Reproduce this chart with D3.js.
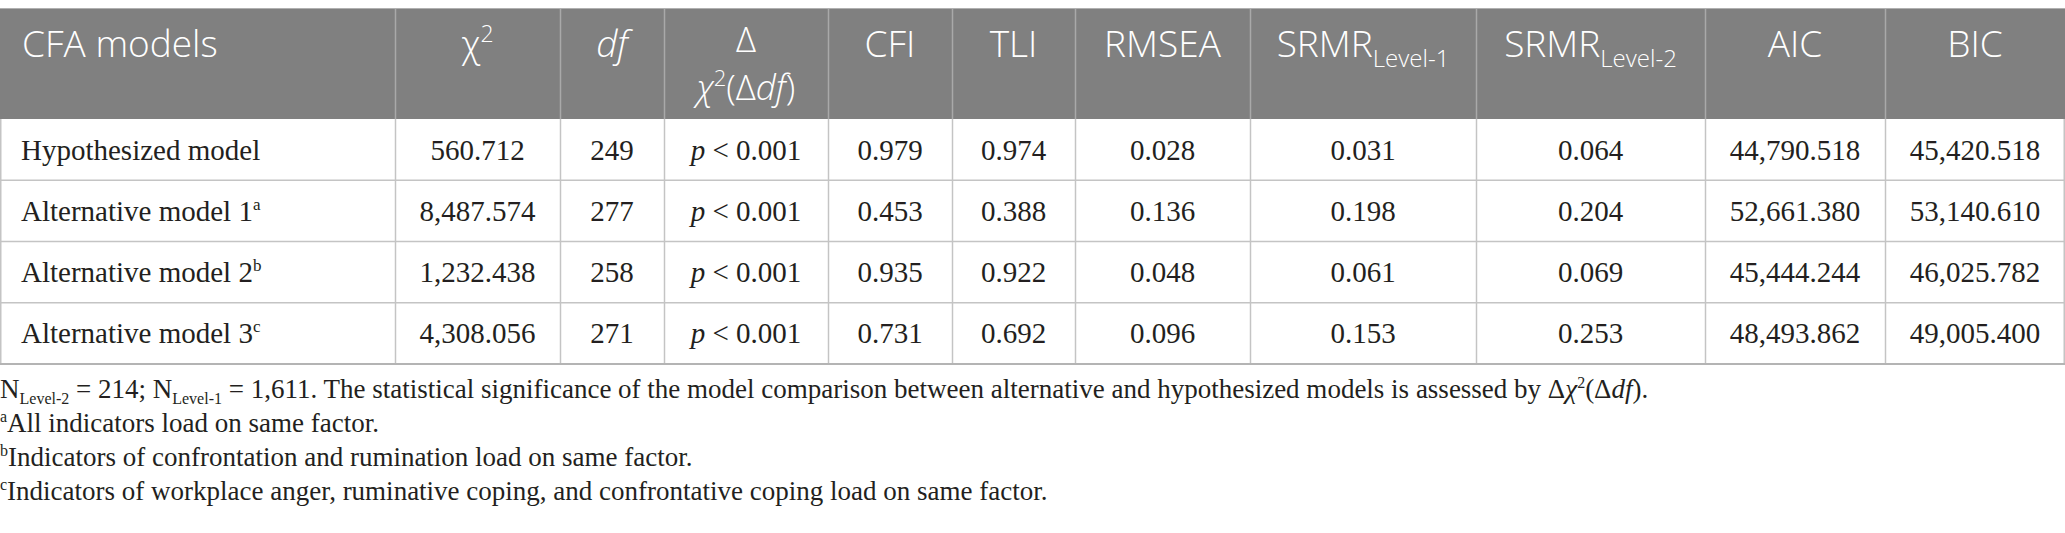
<!DOCTYPE html>
<html>
<head>
<meta charset="utf-8">
<script src="https://cdn.jsdelivr.net/npm/d3@7"></script>
<style>
  html, body { margin: 0; padding: 0; background: #fff; }
  svg { display: block; }
</style>
</head>
<body>
<div id="main-container"></div>
<script>
const WIDTH = 2065;
const HEIGHT = 533;
const HEADER_TOP = 9;
const HEADER_BOTTOM = 119;
const TABLE_BOTTOM = 364;
const HEADER_BG = '#808080';
const HEADER_RULE = '#a9a9a9';
const GRID = '#c4c4c4';
const TEXT = '#231f20';
const SANS = "'Open Sans', 'DejaVu Sans', sans-serif";
const SERIF = "'Liberation Serif', 'DejaVu Serif', serif";

// data
const MODELS = ['Hypothesized model', 'Alternative model 1', 'Alternative model 2', 'Alternative model 3'];
const MODEL_NOTES = ['', 'a', 'b', 'c'];
const CHI2 = ['560.712', '8,487.574', '1,232.438', '4,308.056'];
const DF = ['249', '277', '258', '271'];
const DELTA_P = ['0.001', '0.001', '0.001', '0.001'];
const CFI = ['0.979', '0.453', '0.935', '0.731'];
const TLI = ['0.974', '0.388', '0.922', '0.692'];
const RMSEA = ['0.028', '0.136', '0.048', '0.096'];
const SRMR_L1 = ['0.031', '0.198', '0.061', '0.153'];
const SRMR_L2 = ['0.064', '0.204', '0.069', '0.253'];
const AIC = ['44,790.518', '52,661.380', '45,444.244', '48,493.862'];
const BIC = ['45,420.518', '53,140.610', '46,025.782', '49,005.400'];
const COLUMNS = ['model', 'chi2', 'df', 'delta', 'cfi', 'tli', 'rmsea', 'srmr1', 'srmr2', 'aic', 'bic'];
const NOTES = [
  'All indicators load on same factor.',
  'Indicators of confrontation and rumination load on same factor.',
  'Indicators of workplace anger, ruminative coping, and confrontative coping load on same factor.'
];

// column edges (layout)
const COL_EDGES = [0, 395, 560, 664, 828, 952, 1075, 1250, 1476, 1705, 1885, 2065];

const colX = d3.scaleOrdinal().domain(COLUMNS).range(COL_EDGES.slice(0, -1));
const colW = c => COL_EDGES[COLUMNS.indexOf(c) + 1] - colX(c);
const colMid = c => colX(c) + colW(c) / 2;

const rowY = d3.scaleBand()
  .domain(MODELS)
  .range([HEADER_BOTTOM, TABLE_BOTTOM]);

const SVG = d3.select('#main-container')
  .append('svg')
  .attr('width', WIDTH)
  .attr('height', HEIGHT);

// header background
SVG.append('rect')
  .attr('x', 0)
  .attr('y', HEADER_TOP)
  .attr('width', WIDTH)
  .attr('height', HEADER_BOTTOM - HEADER_TOP)
  .attr('fill', HEADER_BG);

SVG.append('line')
  .attr('x1', 0).attr('x2', WIDTH)
  .attr('y1', HEADER_TOP - 0.5).attr('y2', HEADER_TOP - 0.5)
  .attr('stroke', '#b0b0b0');

// vertical rules
SVG.selectAll('line.vh')
  .data(COLUMNS.slice(1))
  .enter()
  .append('line')
  .attr('class', 'vh')
  .attr('x1', d => colX(d) + 0.5).attr('x2', d => colX(d) + 0.5)
  .attr('y1', HEADER_TOP).attr('y2', HEADER_BOTTOM)
  .attr('stroke', HEADER_RULE)
  .attr('stroke-width', 1.5);

SVG.selectAll('line.vb')
  .data(COLUMNS.slice(1))
  .enter()
  .append('line')
  .attr('class', 'vb')
  .attr('x1', d => colX(d) + 0.5).attr('x2', d => colX(d) + 0.5)
  .attr('y1', HEADER_BOTTOM).attr('y2', TABLE_BOTTOM)
  .attr('stroke', GRID)
  .attr('stroke-width', 1.5);

// edge rules
[0.75, WIDTH - 0.75].forEach(x => {
  SVG.append('line')
    .attr('x1', x).attr('x2', x)
    .attr('y1', HEADER_BOTTOM).attr('y2', TABLE_BOTTOM)
    .attr('stroke', GRID).attr('stroke-width', 1.5);
});

// horizontal rules
SVG.selectAll('line.h')
  .data(MODELS)
  .enter()
  .append('line')
  .attr('class', 'h')
  .attr('x1', 0).attr('x2', WIDTH)
  .attr('y1', d => rowY(d) + rowY.bandwidth())
  .attr('y2', d => rowY(d) + rowY.bandwidth())
  .attr('stroke', (d, i) => i === MODELS.length - 1 ? '#b4b4b4' : GRID)
  .attr('stroke-width', (d, i) => i === MODELS.length - 1 ? 2 : 1.5);

// header texts
const HEAD_Y = 57;
const head = SVG.append('g')
  .attr('fill', '#ffffff')
  .style('font-family', SANS)
  .style('font-size', '37px')
  .style('font-weight', 300);

head.append('text').attr('x', 22).attr('y', HEAD_Y).text('CFA models');

const chiHead = head.append('text').attr('x', colMid('chi2')).attr('y', HEAD_Y).attr('text-anchor', 'middle');
chiHead.append('tspan').text('χ');
chiHead.append('tspan').attr('dy', -15).style('font-size', '23px').text('2');

head.append('text').attr('x', colMid('df')).attr('y', HEAD_Y).attr('text-anchor', 'middle')
  .style('font-style', 'italic').text('df');

// two-line delta header
head.append('text').attr('x', colMid('delta')).attr('y', 52)
  .attr('text-anchor', 'middle').style('font-size', '35px').text('Δ');
const dHead = head.append('text').attr('x', colMid('delta')).attr('y', 100)
  .attr('text-anchor', 'middle').style('font-size', '35px');
dHead.append('tspan').style('font-style', 'italic').text('χ');
dHead.append('tspan').attr('dy', -14).style('font-size', '22px').text('2');
dHead.append('tspan').attr('dy', 14).text('(Δ');
dHead.append('tspan').style('font-style', 'italic').text('df');
dHead.append('tspan').text(')');

[['cfi', 'CFI'], ['tli', 'TLI'], ['rmsea', 'RMSEA'], ['aic', 'AIC'], ['bic', 'BIC']].forEach(([c, t]) => {
  head.append('text').attr('x', colMid(c)).attr('y', HEAD_Y).attr('text-anchor', 'middle').text(t);
});

[['srmr1', 'Level-1'], ['srmr2', 'Level-2']].forEach(([c, sub]) => {
  const t = head.append('text').attr('x', colMid(c)).attr('y', HEAD_Y).attr('text-anchor', 'middle');
  t.append('tspan').text('SRMR');
  t.append('tspan').attr('dy', 10).style('font-size', '24px').text(sub);
});

// body texts
const body = SVG.append('g')
  .attr('fill', TEXT)
  .style('font-family', SERIF)
  .style('font-size', '29px');

const TEXT_DY = 10;

const modelText = body.selectAll('text.model')
  .data(MODELS)
  .enter()
  .append('text')
  .attr('class', 'model')
  .attr('x', 21)
  .attr('y', d => rowY(d) + rowY.bandwidth() / 2 + TEXT_DY);
modelText.append('tspan').text(d => d);
modelText.append('tspan')
  .attr('dy', -11)
  .style('font-size', '17px')
  .text((d, i) => MODEL_NOTES[i]);

const cellCols = [
  ['chi2', CHI2], ['df', DF], ['cfi', CFI], ['tli', TLI], ['rmsea', RMSEA],
  ['srmr1', SRMR_L1], ['srmr2', SRMR_L2], ['aic', AIC], ['bic', BIC]
];
cellCols.forEach(([c, vals]) => {
  body.selectAll(`text.c-${c}`)
    .data(vals)
    .enter()
    .append('text')
    .attr('class', `c-${c}`)
    .attr('x', colMid(c))
    .attr('y', (d, i) => rowY(MODELS[i]) + rowY.bandwidth() / 2 + TEXT_DY)
    .attr('text-anchor', 'middle')
    .text(d => d);
});

const pText = body.selectAll('text.c-delta')
  .data(DELTA_P)
  .enter()
  .append('text')
  .attr('class', 'c-delta')
  .attr('x', colMid('delta'))
  .attr('y', (d, i) => rowY(MODELS[i]) + rowY.bandwidth() / 2 + TEXT_DY)
  .attr('text-anchor', 'middle');
pText.append('tspan').style('font-style', 'italic').text('p');
pText.append('tspan').text(d => ` < ${d}`);

// footnotes
const foot = SVG.append('g')
  .attr('fill', TEXT)
  .style('font-family', SERIF)
  .style('font-size', '27px');

const NOTE_Y = [398, 432, 466, 500];

const f1 = foot.append('text').attr('x', 0).attr('y', NOTE_Y[0]);
f1.append('tspan').text('N');
f1.append('tspan').attr('dy', 6).style('font-size', '16px').text('Level-2');
f1.append('tspan').attr('dy', -6).text(' = 214; N');
f1.append('tspan').attr('dy', 6).style('font-size', '16px').text('Level-1');
f1.append('tspan').attr('dy', -6).text(' = 1,611. The statistical significance of the model comparison between alternative and hypothesized models is assessed by Δ');
f1.append('tspan').style('font-style', 'italic').text('χ');
f1.append('tspan').attr('dy', -10).style('font-size', '16px').text('2');
f1.append('tspan').attr('dy', 10).text('(Δ');
f1.append('tspan').style('font-style', 'italic').text('df');
f1.append('tspan').text(').');

const fn = foot.selectAll('text.note')
  .data(NOTES)
  .enter()
  .append('text')
  .attr('class', 'note')
  .attr('x', 0)
  .attr('y', (d, i) => NOTE_Y[i + 1]);
fn.append('tspan').attr('dy', -10).style('font-size', '16px').text((d, i) => MODEL_NOTES[i + 1]);
fn.append('tspan').attr('dy', 10).text(d => d);
</script>
</body>
</html>
